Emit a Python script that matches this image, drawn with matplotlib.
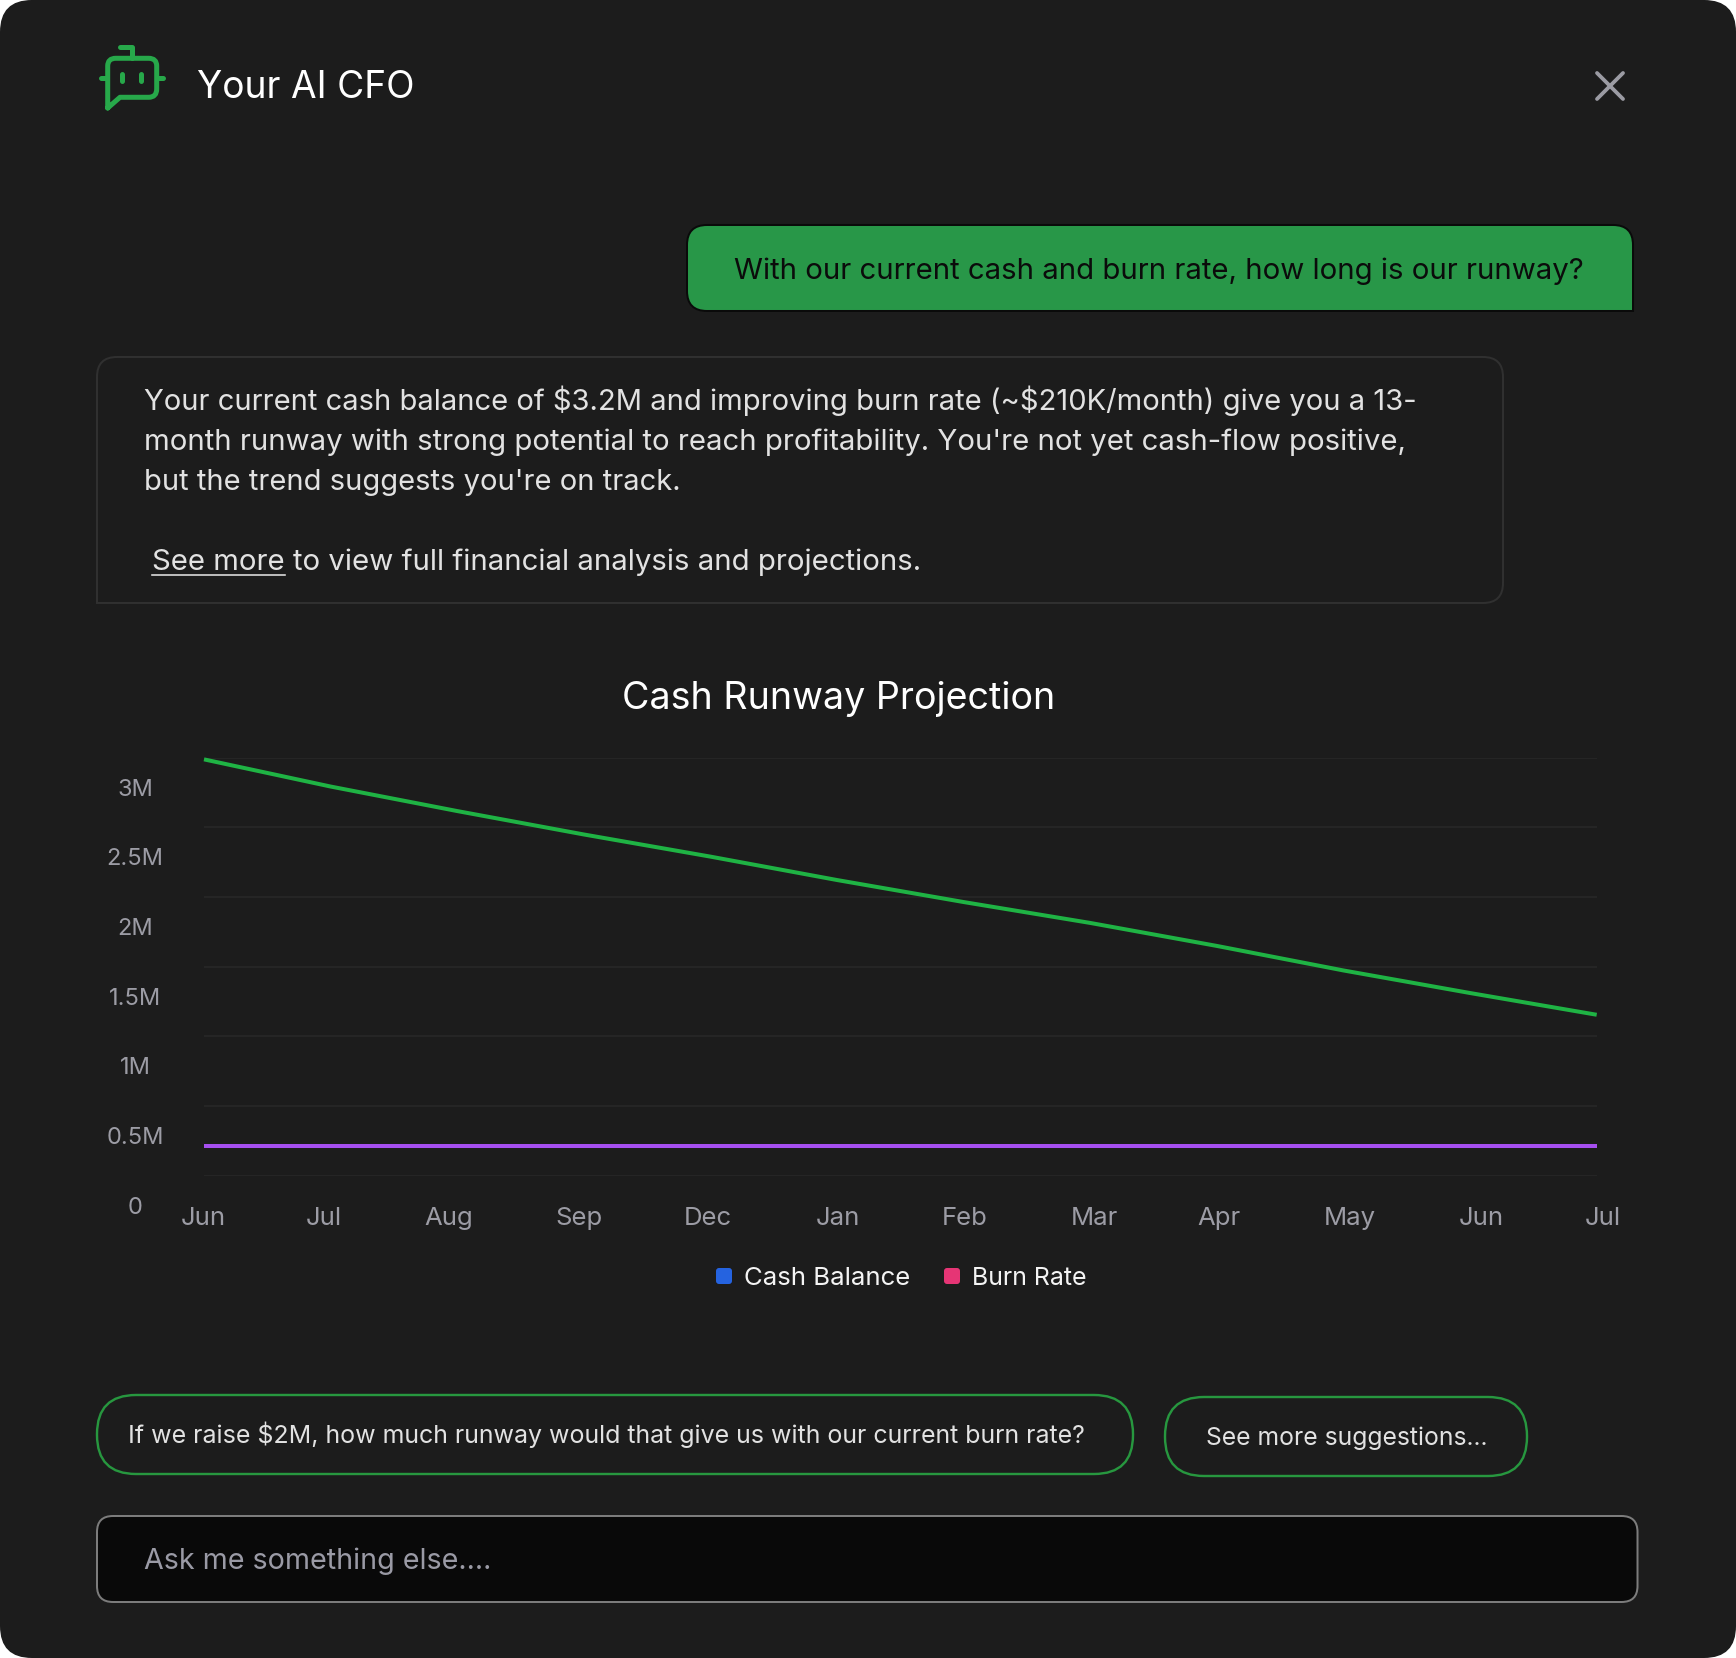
import matplotlib
matplotlib.use('Agg')
import matplotlib.pyplot as plt
from matplotlib.path import Path
from matplotlib.patches import PathPatch
from matplotlib.transforms import ScaledTranslation

W, H = 1736, 1658
FONT = 'Inter'
plt.rcParams['font.family'] = [FONT, 'DejaVu Sans']

# Chart values (millions)
months = ['Jun', 'Jul', 'Aug', 'Sep', 'Dec', 'Jan', 'Feb', 'Mar', 'Apr', 'May', 'Jun', 'Jul']
cash_balance = [2.988, 2.793, 2.617, 2.449, 2.290, 2.122, 1.964, 1.814, 1.649, 1.473, 1.311, 1.155]
burn_rate = [0.213] * 12
y_ticks = [0, 0.5, 1, 1.5, 2, 2.5, 3]
y_labels = ['0', '0.5M', '1M', '1.5M', '2M', '2.5M', '3M']
# month labels are spread a bit wider than the points in the original
month_label_pos = [-0.005, 0.95, 1.93, 2.96, 3.98, 5.01, 6.01, 7.03, 8.02, 9.05, 10.09, 11.05]

BG = '#1c1c1c'
GREEN = '#27973f'
PX = 0.72  # points per pixel at dpi 100

fig = plt.figure(figsize=((W + 0.01) / 100, (H + 0.01) / 100), dpi=100, facecolor='white')
ui = fig.add_axes([0, 0, 1, 1], zorder=0)
ui.set_xlim(0, W)
ui.set_ylim(H, 0)
ui.axis('off')
renderer = fig.canvas.get_renderer()


def round_box(x0, y0, x1, y1, r, fc='none', ec='none', lw=2):
    # r: single radius or (top-left, top-right, bottom-right, bottom-left)
    tl, tr, br, bl = (r, r, r, r) if not isinstance(r, tuple) else r
    verts = [(x0 + tl, y0), (x1 - tr, y0), (x1, y0), (x1, y0 + tr),
             (x1, y1 - br), (x1, y1), (x1 - br, y1),
             (x0 + bl, y1), (x0, y1), (x0, y1 - bl),
             (x0, y0 + tl), (x0, y0), (x0 + tl, y0), (x0 + tl, y0)]
    codes = [Path.MOVETO, Path.LINETO, Path.CURVE3, Path.CURVE3,
             Path.LINETO, Path.CURVE3, Path.CURVE3,
             Path.LINETO, Path.CURVE3, Path.CURVE3,
             Path.LINETO, Path.CURVE3, Path.CURVE3, Path.CLOSEPOLY]
    ui.add_patch(PathPatch(Path(verts, codes), fc=fc, ec=ec, lw=lw * PX))


def fit_text(s, x0, x1, baseline, color):
    # scale the font size so the string spans x0..x1 like the original
    t = ui.text(x0, baseline + 1, s, color=color, fontsize=20, va='baseline', ha='left', parse_math=False)
    w = t.get_window_extent(renderer).width
    t.set_fontsize(20 * (x1 - x0) / w)
    return t


# Panel
round_box(0, 0, W, H, 32, fc=BG)

# Header icon
ICON = '#27a84a'
icon_verts = [(107.7, 108), (107.7, 66), (107.7, 58.3), (115.7, 58.3), (148.7, 58.3), (156.7, 58.3),
              (156.7, 66), (156.7, 89), (156.7, 97.3), (148.7, 97.3), (120, 97.3), (107.7, 108)]
icon_codes = [Path.MOVETO, Path.LINETO, Path.CURVE3, Path.CURVE3, Path.LINETO, Path.CURVE3,
              Path.CURVE3, Path.LINETO, Path.CURVE3, Path.CURVE3, Path.LINETO, Path.LINETO]
ui.add_patch(PathPatch(Path(icon_verts, icon_codes), fc='none', ec=ICON, lw=5 * PX,
                       capstyle='round', joinstyle='round'))
for xs, ys in [([131.7, 131.7, 119.5], [58, 47.5, 47.5]), ([101, 107], [77.7, 77.7]), ([157, 163], [77.7, 77.7]),
               ([122.3, 122.3], [74.5, 81.5]), ([140.7, 140.7], [74.5, 81.5])]:
    ui.plot(xs, ys, color=ICON, lw=5 * PX, solid_capstyle='round', solid_joinstyle='round')

fit_text('Your AI CFO', 196.5, 414, 97, 'white')

# Close button
for xs, ys in [([1597, 1623], [73, 99]), ([1623, 1597], [73, 99])]:
    ui.plot(xs, ys, color='#9b9ba3', lw=3.8 * PX, solid_capstyle='round')

# User message
round_box(687, 225, 1633, 311, (20, 20, 0, 20), fc='#289748', ec='#0a0a0a', lw=2)
fit_text('With our current cash and burn rate, how long is our runway?', 734, 1585, 278, '#0b0b0b')

# Answer box
BODY = '#e2e2e2'
round_box(97, 357, 1503, 603, (20, 20, 20, 0), ec='#303030', lw=2)
fit_text("Your current cash balance of $3.2M and improving burn rate (~$210K/month) give you a 13-", 144, 1416, 409, BODY)
fit_text("month runway with strong potential to reach profitability. You're not yet cash-flow positive,", 144, 1406, 449, BODY)
fit_text("but the trend suggests you're on track.", 144, 680, 489, BODY)
fit_text('See more', 152, 284.5, 569, BODY)
ui.plot([152, 285], [575, 575], color=BODY, lw=1.6 * PX)
fit_text('to view full financial analysis and projections.', 292.5, 921, 569, BODY)

# Chart
fit_text('Cash Runway Projection', 622, 1055.5, 708, 'white')
left, right, top, bottom = 204, 1596.7, 757.7, 1175.7
ax = fig.add_axes([left / W, 1 - bottom / H, (right - left) / W, (bottom - top) / H], zorder=1)
ax.patch.set_visible(False)
for s in ax.spines.values():
    s.set_visible(False)
ax.set_yticks(y_ticks)
ax.set_yticklabels(y_labels, ha='center')
ax.set_xticks(range(12))
ax.set_xticklabels(months)
ax.set_xlim(0, 11)
ax.set_ylim(0, 3)
ax.tick_params(length=0, colors='#9c9ca5')
ax.tick_params(axis='y', pad=49.7, labelsize=17)
ax.tick_params(axis='x', pad=22.7, labelsize=18.5)
ax.grid(axis='y', color='#272727', lw=1.8 * PX)
ax.set_axisbelow(True)

# y labels sit about 29px below their gridlines in the original
offset = ScaledTranslation(0, -29.6 * PX / 72, fig.dpi_scale_trans)
for lab in ax.get_yticklabels():
    lab.set_transform(lab.get_transform() + offset)

# month labels: nudge each one from its point to where the original has it
month_step = (right - left) / 11
for i, (lab, pos) in enumerate(zip(ax.get_xticklabels(), month_label_pos)):
    shift = ScaledTranslation((pos - i) * month_step * PX / 72, 0, fig.dpi_scale_trans)
    lab.set_transform(lab.get_transform() + shift)

ax.plot(range(12), cash_balance, color='#1fb344', lw=4 * PX, clip_on=False, solid_capstyle='butt')
ax.plot(range(12), burn_rate, color='#a64ff0', lw=4 * PX, clip_on=False, solid_capstyle='butt')

# Legend (same swatch colours as the original, they do not match the lines)
round_box(716, 1268, 732, 1284, 3, fc='#2563e0')
fit_text('Cash Balance', 744, 910.5, 1284, '#f4f4f4')
round_box(944, 1268, 960, 1284, 3, fc='#e63575')
fit_text('Burn Rate', 972, 1087, 1284, '#f4f4f4')

# Suggestions
round_box(97, 1395, 1133, 1474, 39, ec=GREEN, lw=2.4)
fit_text('If we raise $2M, how much runway would that give us with our current burn rate?', 128, 1088, 1442, BODY)
round_box(1165, 1397, 1527, 1476, 39, ec=GREEN, lw=2.4)
fit_text('See more suggestions...', 1205.5, 1487, 1444, BODY)

# Input
round_box(97, 1516, 1637.5, 1602, 16, fc='#090909', ec='#7c7c7c', lw=2)
fit_text('Ask me something else....', 144, 490, 1568, '#9a9aa5')

fig.savefig('out.png', dpi=100, facecolor='white')
